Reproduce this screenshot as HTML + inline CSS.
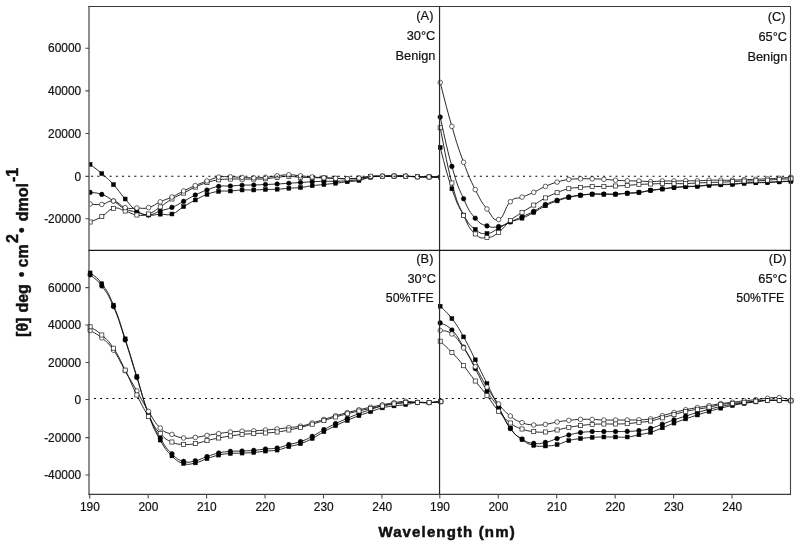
<!DOCTYPE html>
<html><head><meta charset="utf-8"><title>CD spectra</title>
<style>
html,body{margin:0;padding:0;background:#fff;}
body{width:800px;height:546px;overflow:hidden;font-family:"Liberation Sans",sans-serif;}
svg{display:block;filter:grayscale(1);}
text{font-family:"Liberation Sans",sans-serif;fill:#111;}
.ax{fill:none;stroke:#4a4a4a;stroke-width:1.1;}
.hd{fill:none;stroke:#222;stroke-width:1.4;}
.zl{fill:none;stroke:#000;stroke-width:1.15;stroke-dasharray:2 4.169;}
.ln{fill:none;stroke:#111;stroke-width:0.9;}
.f{fill:#000;stroke:#000;stroke-width:0.5;}
.o{fill:#fff;stroke:#222;stroke-width:0.7;}
.tl{font-size:11.9px;stroke:#111;stroke-width:0.2px;}
.pl{font-size:12.8px;stroke:#111;stroke-width:0.2px;}
.xt{font-size:15px;font-weight:bold;letter-spacing:1.14px;stroke:#111;stroke-width:0.5px;}
.yt{font-size:16px;font-weight:bold;stroke:#111;stroke-width:0.45px;}
.sp{font-size:14px;}
</style></head>
<body>
<svg width="800" height="546" viewBox="0 0 800 546">
<rect x="0" y="0" width="800" height="546" fill="#fff"/>
<clipPath id="cp"><rect x="89.4" y="0" width="350.6" height="250"/></clipPath>
<g clip-path="url(#cp)">
<path class="ln" d="M90.10 164.40C93.02 166.70 95.94 168.55 101.79 173.60C107.63 178.65 107.63 178.25 113.48 184.60C119.32 190.95 119.32 192.40 125.17 199.00C131.01 205.60 131.01 207.00 136.86 211.00C142.70 215.00 142.70 214.20 148.55 215.00C154.39 215.80 154.40 214.45 160.24 214.20C166.09 213.95 166.09 215.90 171.93 214.00C177.78 212.10 177.78 210.10 183.62 206.60C189.47 203.10 189.47 203.05 195.31 200.00C201.16 196.95 201.16 196.55 207.00 194.40C212.84 192.25 212.84 192.25 218.69 191.40C224.53 190.55 224.53 191.35 230.38 191.00C236.22 190.65 236.22 190.25 242.07 190.00C247.91 189.75 247.91 190.12 253.76 190.00C259.61 189.88 259.61 189.69 265.45 189.50C271.29 189.31 271.29 189.56 277.14 189.25C282.99 188.94 282.99 188.69 288.83 188.25C294.67 187.81 294.67 188.12 300.52 187.50C306.37 186.88 306.37 186.50 312.21 185.75C318.05 185.00 318.05 185.12 323.90 184.50C329.75 183.88 329.75 183.94 335.59 183.25C341.43 182.56 341.43 182.44 347.28 181.75C353.12 181.06 353.12 181.64 358.97 180.50C364.82 179.36 364.81 178.27 370.66 177.20C376.50 176.12 376.50 176.47 382.35 176.20C388.20 175.92 388.19 176.10 394.04 176.10C399.88 176.10 399.88 176.02 405.73 176.20C411.58 176.38 411.57 176.62 417.42 176.80C423.26 176.98 423.26 176.80 429.11 176.90C434.96 177.00 437.88 177.12 440.80 177.20"/>
<rect class="f" x="88.15" y="162.45" width="3.9" height="3.9"/><rect class="f" x="99.84" y="171.65" width="3.9" height="3.9"/><rect class="f" x="111.53" y="182.65" width="3.9" height="3.9"/><rect class="f" x="123.22" y="197.05" width="3.9" height="3.9"/><rect class="f" x="134.91" y="209.05" width="3.9" height="3.9"/><rect class="f" x="146.60" y="213.05" width="3.9" height="3.9"/><rect class="f" x="158.29" y="212.25" width="3.9" height="3.9"/><rect class="f" x="169.98" y="212.05" width="3.9" height="3.9"/><rect class="f" x="181.67" y="204.65" width="3.9" height="3.9"/><rect class="f" x="193.36" y="198.05" width="3.9" height="3.9"/><rect class="f" x="205.05" y="192.45" width="3.9" height="3.9"/><rect class="f" x="216.74" y="189.45" width="3.9" height="3.9"/><rect class="f" x="228.43" y="189.05" width="3.9" height="3.9"/><rect class="f" x="240.12" y="188.05" width="3.9" height="3.9"/><rect class="f" x="251.81" y="188.05" width="3.9" height="3.9"/><rect class="f" x="263.50" y="187.55" width="3.9" height="3.9"/><rect class="f" x="275.19" y="187.30" width="3.9" height="3.9"/><rect class="f" x="286.88" y="186.30" width="3.9" height="3.9"/><rect class="f" x="298.57" y="185.55" width="3.9" height="3.9"/><rect class="f" x="310.26" y="183.80" width="3.9" height="3.9"/><rect class="f" x="321.95" y="182.55" width="3.9" height="3.9"/><rect class="f" x="333.64" y="181.30" width="3.9" height="3.9"/><rect class="f" x="345.33" y="179.80" width="3.9" height="3.9"/><rect class="f" x="357.02" y="178.55" width="3.9" height="3.9"/><rect class="f" x="368.71" y="175.25" width="3.9" height="3.9"/><rect class="f" x="380.40" y="174.25" width="3.9" height="3.9"/><rect class="f" x="392.09" y="174.15" width="3.9" height="3.9"/><rect class="f" x="403.78" y="174.25" width="3.9" height="3.9"/><rect class="f" x="415.47" y="174.85" width="3.9" height="3.9"/><rect class="f" x="427.16" y="174.95" width="3.9" height="3.9"/><rect class="f" x="438.85" y="175.25" width="3.9" height="3.9"/>
<path class="ln" d="M90.10 192.40C93.02 192.90 95.94 192.25 101.79 194.40C107.63 196.55 107.63 197.35 113.48 201.00C119.32 204.65 119.32 206.25 125.17 209.00C131.01 211.75 131.01 210.50 136.86 212.00C142.70 213.50 142.70 215.25 148.55 215.00C154.39 214.75 154.40 212.90 160.24 211.00C166.09 209.10 166.09 209.80 171.93 207.40C177.78 205.00 177.78 204.50 183.62 201.40C189.47 198.30 189.47 197.85 195.31 195.00C201.16 192.15 201.16 192.15 207.00 190.00C212.84 187.85 212.84 187.40 218.69 186.40C224.53 185.40 224.53 186.30 230.38 186.00C236.22 185.70 236.22 185.45 242.07 185.20C247.91 184.95 247.91 185.18 253.76 185.00C259.61 184.82 259.61 184.75 265.45 184.50C271.29 184.25 271.29 184.31 277.14 184.00C282.99 183.69 282.99 183.62 288.83 183.25C294.67 182.88 294.67 182.88 300.52 182.50C306.37 182.12 306.37 182.06 312.21 181.75C318.05 181.44 318.05 181.38 323.90 181.25C329.75 181.12 329.75 181.38 335.59 181.25C341.43 181.12 341.43 181.19 347.28 180.75C353.12 180.31 353.12 180.44 358.97 179.50C364.82 178.56 364.81 177.82 370.66 177.00C376.50 176.18 376.50 176.42 382.35 176.20C388.20 175.97 388.19 176.10 394.04 176.10C399.88 176.10 399.88 176.02 405.73 176.20C411.58 176.38 411.57 176.62 417.42 176.80C423.26 176.98 423.26 176.80 429.11 176.90C434.96 177.00 437.88 177.12 440.80 177.20"/>
<circle class="f" cx="90.10" cy="192.40" r="2.30"/><circle class="f" cx="101.79" cy="194.40" r="2.30"/><circle class="f" cx="113.48" cy="201.00" r="2.30"/><circle class="f" cx="125.17" cy="209.00" r="2.30"/><circle class="f" cx="136.86" cy="212.00" r="2.30"/><circle class="f" cx="148.55" cy="215.00" r="2.30"/><circle class="f" cx="160.24" cy="211.00" r="2.30"/><circle class="f" cx="171.93" cy="207.40" r="2.30"/><circle class="f" cx="183.62" cy="201.40" r="2.30"/><circle class="f" cx="195.31" cy="195.00" r="2.30"/><circle class="f" cx="207.00" cy="190.00" r="2.30"/><circle class="f" cx="218.69" cy="186.40" r="2.30"/><circle class="f" cx="230.38" cy="186.00" r="2.30"/><circle class="f" cx="242.07" cy="185.20" r="2.30"/><circle class="f" cx="253.76" cy="185.00" r="2.30"/><circle class="f" cx="265.45" cy="184.50" r="2.30"/><circle class="f" cx="277.14" cy="184.00" r="2.30"/><circle class="f" cx="288.83" cy="183.25" r="2.30"/><circle class="f" cx="300.52" cy="182.50" r="2.30"/><circle class="f" cx="312.21" cy="181.75" r="2.30"/><circle class="f" cx="323.90" cy="181.25" r="2.30"/><circle class="f" cx="335.59" cy="181.25" r="2.30"/><circle class="f" cx="347.28" cy="180.75" r="2.30"/><circle class="f" cx="358.97" cy="179.50" r="2.30"/><circle class="f" cx="370.66" cy="177.00" r="2.30"/><circle class="f" cx="382.35" cy="176.20" r="2.30"/><circle class="f" cx="394.04" cy="176.10" r="2.30"/><circle class="f" cx="405.73" cy="176.20" r="2.30"/><circle class="f" cx="417.42" cy="176.80" r="2.30"/><circle class="f" cx="429.11" cy="176.90" r="2.30"/><circle class="f" cx="440.80" cy="177.20" r="2.30"/>
<path class="ln" d="M90.10 222.00C93.02 220.65 95.94 220.00 101.79 216.60C107.63 213.20 107.63 209.80 113.48 208.40C119.32 207.00 119.32 209.35 125.17 211.00C131.01 212.65 131.01 214.25 136.86 215.00C142.70 215.75 142.70 216.03 148.55 214.00C154.39 211.97 154.40 210.65 160.24 206.90C166.09 203.15 166.09 202.45 171.93 199.00C177.78 195.55 177.78 196.07 183.62 193.10C189.47 190.12 189.47 189.72 195.31 187.10C201.16 184.47 201.16 184.42 207.00 182.60C212.84 180.78 212.84 180.68 218.69 179.80C224.53 178.93 224.53 179.28 230.38 179.10C236.22 178.92 236.22 179.10 242.07 179.10C247.91 179.10 247.91 179.17 253.76 179.10C259.61 179.03 259.61 179.25 265.45 178.80C271.29 178.35 271.29 177.90 277.14 177.30C282.99 176.70 282.99 176.40 288.83 176.40C294.67 176.40 294.67 177.00 300.52 177.30C306.37 177.60 306.37 177.45 312.21 177.60C318.05 177.75 318.05 177.72 323.90 177.90C329.75 178.08 329.75 178.08 335.59 178.30C341.43 178.53 341.43 178.83 347.28 178.80C353.12 178.78 353.12 178.77 358.97 178.20C364.82 177.62 364.81 177.00 370.66 176.50C376.50 176.00 376.50 176.30 382.35 176.20C388.20 176.10 388.19 176.10 394.04 176.10C399.88 176.10 399.88 176.02 405.73 176.20C411.58 176.38 411.57 176.62 417.42 176.80C423.26 176.98 423.26 176.80 429.11 176.90C434.96 177.00 437.88 177.12 440.80 177.20"/>
<rect class="o" x="88.05" y="219.95" width="4.1" height="4.1"/><rect class="o" x="99.74" y="214.55" width="4.1" height="4.1"/><rect class="o" x="111.43" y="206.35" width="4.1" height="4.1"/><rect class="o" x="123.12" y="208.95" width="4.1" height="4.1"/><rect class="o" x="134.81" y="212.95" width="4.1" height="4.1"/><rect class="o" x="146.50" y="211.95" width="4.1" height="4.1"/><rect class="o" x="158.19" y="204.85" width="4.1" height="4.1"/><rect class="o" x="169.88" y="196.95" width="4.1" height="4.1"/><rect class="o" x="181.57" y="191.05" width="4.1" height="4.1"/><rect class="o" x="193.26" y="185.05" width="4.1" height="4.1"/><rect class="o" x="204.95" y="180.55" width="4.1" height="4.1"/><rect class="o" x="216.64" y="177.75" width="4.1" height="4.1"/><rect class="o" x="228.33" y="177.05" width="4.1" height="4.1"/><rect class="o" x="240.02" y="177.05" width="4.1" height="4.1"/><rect class="o" x="251.71" y="177.05" width="4.1" height="4.1"/><rect class="o" x="263.40" y="176.75" width="4.1" height="4.1"/><rect class="o" x="275.09" y="175.25" width="4.1" height="4.1"/><rect class="o" x="286.78" y="174.35" width="4.1" height="4.1"/><rect class="o" x="298.47" y="175.25" width="4.1" height="4.1"/><rect class="o" x="310.16" y="175.55" width="4.1" height="4.1"/><rect class="o" x="321.85" y="175.85" width="4.1" height="4.1"/><rect class="o" x="333.54" y="176.25" width="4.1" height="4.1"/><rect class="o" x="345.23" y="176.75" width="4.1" height="4.1"/><rect class="o" x="356.92" y="176.15" width="4.1" height="4.1"/><rect class="o" x="368.61" y="174.45" width="4.1" height="4.1"/><rect class="o" x="380.30" y="174.15" width="4.1" height="4.1"/><rect class="o" x="391.99" y="174.05" width="4.1" height="4.1"/><rect class="o" x="403.68" y="174.15" width="4.1" height="4.1"/><rect class="o" x="415.37" y="174.75" width="4.1" height="4.1"/><rect class="o" x="427.06" y="174.85" width="4.1" height="4.1"/><rect class="o" x="438.75" y="175.15" width="4.1" height="4.1"/>
<path class="ln" d="M90.10 204.00C93.02 204.10 95.94 205.15 101.79 204.40C107.63 203.65 107.63 200.20 113.48 201.00C119.32 201.80 119.32 205.85 125.17 207.60C131.01 209.35 131.01 208.00 136.86 208.00C142.70 208.00 142.70 209.15 148.55 207.60C154.39 206.05 154.40 204.45 160.24 201.80C166.09 199.15 166.09 199.70 171.93 197.00C177.78 194.30 177.78 193.85 183.62 191.00C189.47 188.15 189.47 188.10 195.31 185.60C201.16 183.10 201.16 183.12 207.00 181.00C212.84 178.88 212.84 178.14 218.69 177.10C224.53 176.06 224.53 176.77 230.38 176.85C236.22 176.93 236.22 177.16 242.07 177.40C247.91 177.64 247.91 177.83 253.76 177.80C259.61 177.78 259.61 177.80 265.45 177.30C271.29 176.80 271.29 176.43 277.14 175.80C282.99 175.18 282.99 174.80 288.83 174.80C294.67 174.80 294.67 175.28 300.52 175.80C306.37 176.33 306.37 176.40 312.21 176.90C318.05 177.40 318.05 177.45 323.90 177.80C329.75 178.15 329.75 178.08 335.59 178.30C341.43 178.53 341.43 178.77 347.28 178.70C353.12 178.62 353.12 178.61 358.97 178.00C364.82 177.39 364.81 176.70 370.66 176.25C376.50 175.80 376.50 176.24 382.35 176.20C388.20 176.16 388.19 176.10 394.04 176.10C399.88 176.10 399.88 176.02 405.73 176.20C411.58 176.38 411.57 176.62 417.42 176.80C423.26 176.98 423.26 176.80 429.11 176.90C434.96 177.00 437.88 177.12 440.80 177.20"/>
<circle class="o" cx="90.10" cy="204.00" r="2.30"/><circle class="o" cx="101.79" cy="204.40" r="2.30"/><circle class="o" cx="113.48" cy="201.00" r="2.30"/><circle class="o" cx="125.17" cy="207.60" r="2.30"/><circle class="o" cx="136.86" cy="208.00" r="2.30"/><circle class="o" cx="148.55" cy="207.60" r="2.30"/><circle class="o" cx="160.24" cy="201.80" r="2.30"/><circle class="o" cx="171.93" cy="197.00" r="2.30"/><circle class="o" cx="183.62" cy="191.00" r="2.30"/><circle class="o" cx="195.31" cy="185.60" r="2.30"/><circle class="o" cx="207.00" cy="181.00" r="2.30"/><circle class="o" cx="218.69" cy="177.10" r="2.30"/><circle class="o" cx="230.38" cy="176.85" r="2.30"/><circle class="o" cx="242.07" cy="177.40" r="2.30"/><circle class="o" cx="253.76" cy="177.80" r="2.30"/><circle class="o" cx="265.45" cy="177.30" r="2.30"/><circle class="o" cx="277.14" cy="175.80" r="2.30"/><circle class="o" cx="288.83" cy="174.80" r="2.30"/><circle class="o" cx="300.52" cy="175.80" r="2.30"/><circle class="o" cx="312.21" cy="176.90" r="2.30"/><circle class="o" cx="323.90" cy="177.80" r="2.30"/><circle class="o" cx="335.59" cy="178.30" r="2.30"/><circle class="o" cx="347.28" cy="178.70" r="2.30"/><circle class="o" cx="358.97" cy="178.00" r="2.30"/><circle class="o" cx="370.66" cy="176.25" r="2.30"/><circle class="o" cx="382.35" cy="176.20" r="2.30"/><circle class="o" cx="394.04" cy="176.10" r="2.30"/><circle class="o" cx="405.73" cy="176.20" r="2.30"/><circle class="o" cx="417.42" cy="176.80" r="2.30"/><circle class="o" cx="429.11" cy="176.90" r="2.30"/><circle class="o" cx="440.80" cy="177.20" r="2.30"/>
</g>
<path class="ln" d="M440.20 147.50C443.12 157.82 446.04 171.93 451.89 188.80C457.74 205.68 457.74 204.85 463.58 215.00C469.42 225.15 469.42 224.78 475.27 229.40C481.12 234.03 481.12 233.80 486.96 233.50C492.80 233.20 492.80 231.07 498.65 228.20C504.50 225.32 504.50 224.50 510.34 222.00C516.18 219.50 516.18 220.57 522.03 218.20C527.88 215.82 527.88 215.60 533.72 212.50C539.57 209.40 539.56 208.70 545.41 205.80C551.25 202.90 551.25 202.95 557.10 200.90C562.95 198.85 562.94 198.97 568.79 197.60C574.63 196.22 574.63 196.22 580.48 195.40C586.33 194.58 586.32 194.58 592.17 194.30C598.01 194.03 598.01 194.30 603.86 194.30C609.71 194.30 609.70 194.53 615.55 194.30C621.39 194.08 621.39 193.82 627.24 193.40C633.09 192.98 633.08 193.30 638.93 192.60C644.77 191.90 644.77 191.48 650.62 190.60C656.47 189.73 656.46 189.83 662.31 189.10C668.15 188.38 668.15 188.28 674.00 187.70C679.85 187.12 679.84 187.15 685.69 186.80C691.53 186.45 691.53 186.68 697.38 186.30C703.23 185.93 703.22 185.68 709.07 185.30C714.91 184.93 714.91 185.05 720.76 184.80C726.61 184.55 726.61 184.68 732.45 184.30C738.30 183.93 738.30 183.68 744.14 183.30C749.98 182.93 749.98 183.00 755.83 182.80C761.67 182.60 761.67 182.72 767.52 182.50C773.37 182.28 773.37 182.20 779.21 181.90C785.06 181.60 787.98 181.45 790.90 181.30"/>
<rect class="f" x="438.25" y="145.55" width="3.9" height="3.9"/><rect class="f" x="449.94" y="186.85" width="3.9" height="3.9"/><rect class="f" x="461.63" y="213.05" width="3.9" height="3.9"/><rect class="f" x="473.32" y="227.45" width="3.9" height="3.9"/><rect class="f" x="485.01" y="231.55" width="3.9" height="3.9"/><rect class="f" x="496.70" y="226.25" width="3.9" height="3.9"/><rect class="f" x="508.39" y="220.05" width="3.9" height="3.9"/><rect class="f" x="520.08" y="216.25" width="3.9" height="3.9"/><rect class="f" x="531.77" y="210.55" width="3.9" height="3.9"/><rect class="f" x="543.46" y="203.85" width="3.9" height="3.9"/><rect class="f" x="555.15" y="198.95" width="3.9" height="3.9"/><rect class="f" x="566.84" y="195.65" width="3.9" height="3.9"/><rect class="f" x="578.53" y="193.45" width="3.9" height="3.9"/><rect class="f" x="590.22" y="192.35" width="3.9" height="3.9"/><rect class="f" x="601.91" y="192.35" width="3.9" height="3.9"/><rect class="f" x="613.60" y="192.35" width="3.9" height="3.9"/><rect class="f" x="625.29" y="191.45" width="3.9" height="3.9"/><rect class="f" x="636.98" y="190.65" width="3.9" height="3.9"/><rect class="f" x="648.67" y="188.65" width="3.9" height="3.9"/><rect class="f" x="660.36" y="187.15" width="3.9" height="3.9"/><rect class="f" x="672.05" y="185.75" width="3.9" height="3.9"/><rect class="f" x="683.74" y="184.85" width="3.9" height="3.9"/><rect class="f" x="695.43" y="184.35" width="3.9" height="3.9"/><rect class="f" x="707.12" y="183.35" width="3.9" height="3.9"/><rect class="f" x="718.81" y="182.85" width="3.9" height="3.9"/><rect class="f" x="730.50" y="182.35" width="3.9" height="3.9"/><rect class="f" x="742.19" y="181.35" width="3.9" height="3.9"/><rect class="f" x="753.88" y="180.85" width="3.9" height="3.9"/><rect class="f" x="765.57" y="180.55" width="3.9" height="3.9"/><rect class="f" x="777.26" y="179.95" width="3.9" height="3.9"/><rect class="f" x="788.95" y="179.35" width="3.9" height="3.9"/>
<path class="ln" d="M440.20 117.10C443.12 129.43 446.04 145.97 451.89 166.40C457.74 186.83 457.74 185.85 463.58 198.80C469.42 211.75 469.42 211.42 475.27 218.20C481.12 224.97 481.12 223.82 486.96 225.90C492.80 227.98 492.80 227.53 498.65 226.50C504.50 225.47 504.50 224.23 510.34 221.80C516.18 219.38 516.18 219.43 522.03 216.80C527.88 214.18 527.88 214.38 533.72 211.30C539.57 208.23 539.56 207.28 545.41 204.50C551.25 201.72 551.25 202.10 557.10 200.20C562.95 198.30 562.94 198.18 568.79 196.90C574.63 195.62 574.63 195.82 580.48 195.10C586.33 194.38 586.32 194.28 592.17 194.00C598.01 193.72 598.01 194.00 603.86 194.00C609.71 194.00 609.70 194.22 615.55 194.00C621.39 193.78 621.39 193.52 627.24 193.10C633.09 192.68 633.08 193.00 638.93 192.30C644.77 191.60 644.77 191.18 650.62 190.30C656.47 189.43 656.46 189.53 662.31 188.80C668.15 188.08 668.15 187.98 674.00 187.40C679.85 186.82 679.84 186.85 685.69 186.50C691.53 186.15 691.53 186.38 697.38 186.00C703.23 185.62 703.22 185.38 709.07 185.00C714.91 184.62 714.91 184.75 720.76 184.50C726.61 184.25 726.61 184.38 732.45 184.00C738.30 183.62 738.30 183.38 744.14 183.00C749.98 182.62 749.98 182.70 755.83 182.50C761.67 182.30 761.67 182.42 767.52 182.20C773.37 181.97 773.37 181.90 779.21 181.60C785.06 181.30 787.98 181.15 790.90 181.00"/>
<circle class="f" cx="440.20" cy="117.10" r="2.30"/><circle class="f" cx="451.89" cy="166.40" r="2.30"/><circle class="f" cx="463.58" cy="198.80" r="2.30"/><circle class="f" cx="475.27" cy="218.20" r="2.30"/><circle class="f" cx="486.96" cy="225.90" r="2.30"/><circle class="f" cx="498.65" cy="226.50" r="2.30"/><circle class="f" cx="510.34" cy="221.80" r="2.30"/><circle class="f" cx="522.03" cy="216.80" r="2.30"/><circle class="f" cx="533.72" cy="211.30" r="2.30"/><circle class="f" cx="545.41" cy="204.50" r="2.30"/><circle class="f" cx="557.10" cy="200.20" r="2.30"/><circle class="f" cx="568.79" cy="196.90" r="2.30"/><circle class="f" cx="580.48" cy="195.10" r="2.30"/><circle class="f" cx="592.17" cy="194.00" r="2.30"/><circle class="f" cx="603.86" cy="194.00" r="2.30"/><circle class="f" cx="615.55" cy="194.00" r="2.30"/><circle class="f" cx="627.24" cy="193.10" r="2.30"/><circle class="f" cx="638.93" cy="192.30" r="2.30"/><circle class="f" cx="650.62" cy="190.30" r="2.30"/><circle class="f" cx="662.31" cy="188.80" r="2.30"/><circle class="f" cx="674.00" cy="187.40" r="2.30"/><circle class="f" cx="685.69" cy="186.50" r="2.30"/><circle class="f" cx="697.38" cy="186.00" r="2.30"/><circle class="f" cx="709.07" cy="185.00" r="2.30"/><circle class="f" cx="720.76" cy="184.50" r="2.30"/><circle class="f" cx="732.45" cy="184.00" r="2.30"/><circle class="f" cx="744.14" cy="183.00" r="2.30"/><circle class="f" cx="755.83" cy="182.50" r="2.30"/><circle class="f" cx="767.52" cy="182.20" r="2.30"/><circle class="f" cx="779.21" cy="181.60" r="2.30"/><circle class="f" cx="790.90" cy="181.00" r="2.30"/>
<path class="ln" d="M440.20 82.50C443.12 93.47 446.04 106.45 451.89 126.40C457.74 146.35 457.74 146.50 463.58 162.30C469.42 178.10 469.42 177.93 475.27 189.60C481.12 201.27 481.12 201.53 486.96 209.00C492.80 216.47 492.80 221.32 498.65 219.50C504.50 217.68 504.50 207.30 510.34 201.70C516.18 196.10 516.18 199.45 522.03 197.10C527.88 194.75 527.88 194.98 533.72 192.30C539.57 189.62 539.56 188.95 545.41 186.40C551.25 183.85 551.25 183.82 557.10 182.10C562.95 180.38 562.94 180.32 568.79 179.50C574.63 178.68 574.63 178.98 580.48 178.80C586.33 178.62 586.32 178.68 592.17 178.80C598.01 178.93 598.01 178.95 603.86 179.30C609.71 179.65 609.70 179.82 615.55 180.20C621.39 180.57 621.39 180.60 627.24 180.80C633.09 181.00 633.08 180.80 638.93 181.00C644.77 181.20 644.77 181.60 650.62 181.60C656.47 181.60 656.46 181.15 662.31 181.00C668.15 180.85 668.15 181.05 674.00 181.00C679.85 180.95 679.84 180.85 685.69 180.80C691.53 180.75 691.53 180.95 697.38 180.80C703.23 180.65 703.22 180.35 709.07 180.20C714.91 180.05 714.91 180.20 720.76 180.20C726.61 180.20 726.61 180.35 732.45 180.20C738.30 180.05 738.30 179.82 744.14 179.60C749.98 179.38 749.98 179.50 755.83 179.30C761.67 179.10 761.67 179.08 767.52 178.80C773.37 178.53 773.37 178.57 779.21 178.20C785.06 177.82 787.98 177.53 790.90 177.30"/>
<circle class="o" cx="440.20" cy="82.50" r="2.30"/><circle class="o" cx="451.89" cy="126.40" r="2.30"/><circle class="o" cx="463.58" cy="162.30" r="2.30"/><circle class="o" cx="475.27" cy="189.60" r="2.30"/><circle class="o" cx="486.96" cy="209.00" r="2.30"/><circle class="o" cx="498.65" cy="219.50" r="2.30"/><circle class="o" cx="510.34" cy="201.70" r="2.30"/><circle class="o" cx="522.03" cy="197.10" r="2.30"/><circle class="o" cx="533.72" cy="192.30" r="2.30"/><circle class="o" cx="545.41" cy="186.40" r="2.30"/><circle class="o" cx="557.10" cy="182.10" r="2.30"/><circle class="o" cx="568.79" cy="179.50" r="2.30"/><circle class="o" cx="580.48" cy="178.80" r="2.30"/><circle class="o" cx="592.17" cy="178.80" r="2.30"/><circle class="o" cx="603.86" cy="179.30" r="2.30"/><circle class="o" cx="615.55" cy="180.20" r="2.30"/><circle class="o" cx="627.24" cy="180.80" r="2.30"/><circle class="o" cx="638.93" cy="181.00" r="2.30"/><circle class="o" cx="650.62" cy="181.60" r="2.30"/><circle class="o" cx="662.31" cy="181.00" r="2.30"/><circle class="o" cx="674.00" cy="181.00" r="2.30"/><circle class="o" cx="685.69" cy="180.80" r="2.30"/><circle class="o" cx="697.38" cy="180.80" r="2.30"/><circle class="o" cx="709.07" cy="180.20" r="2.30"/><circle class="o" cx="720.76" cy="180.20" r="2.30"/><circle class="o" cx="732.45" cy="180.20" r="2.30"/><circle class="o" cx="744.14" cy="179.60" r="2.30"/><circle class="o" cx="755.83" cy="179.30" r="2.30"/><circle class="o" cx="767.52" cy="178.80" r="2.30"/><circle class="o" cx="779.21" cy="178.20" r="2.30"/><circle class="o" cx="790.90" cy="177.30" r="2.30"/>
<path class="ln" d="M440.20 127.70C443.12 141.53 446.04 161.05 451.89 183.00C457.74 204.95 457.74 202.78 463.58 215.50C469.42 228.22 469.42 228.40 475.27 233.90C481.12 239.40 481.12 237.90 486.96 237.50C492.80 237.10 492.80 236.53 498.65 232.30C504.50 228.08 504.50 225.55 510.34 220.60C516.18 215.65 516.18 216.38 522.03 212.50C527.88 208.62 527.88 208.75 533.72 205.10C539.57 201.45 539.56 201.00 545.41 197.90C551.25 194.80 551.25 195.00 557.10 192.70C562.95 190.40 562.94 190.02 568.79 188.70C574.63 187.38 574.63 187.95 580.48 187.40C586.33 186.85 586.32 186.72 592.17 186.50C598.01 186.28 598.01 186.62 603.86 186.50C609.71 186.38 609.70 186.28 615.55 186.00C621.39 185.72 621.39 185.78 627.24 185.40C633.09 185.03 633.08 184.85 638.93 184.50C644.77 184.15 644.77 184.22 650.62 184.00C656.47 183.78 656.46 183.70 662.31 183.60C668.15 183.50 668.15 183.60 674.00 183.60C679.85 183.60 679.84 183.75 685.69 183.60C691.53 183.45 691.53 183.28 697.38 183.00C703.23 182.72 703.22 182.70 709.07 182.50C714.91 182.30 714.91 182.42 720.76 182.20C726.61 181.97 726.61 181.90 732.45 181.60C738.30 181.30 738.30 181.20 744.14 181.00C749.98 180.80 749.98 181.00 755.83 180.80C761.67 180.60 761.67 180.57 767.52 180.20C773.37 179.82 773.37 179.65 779.21 179.30C785.06 178.95 787.98 178.93 790.90 178.80"/>
<rect class="o" x="438.15" y="125.65" width="4.1" height="4.1"/><rect class="o" x="449.84" y="180.95" width="4.1" height="4.1"/><rect class="o" x="461.53" y="213.45" width="4.1" height="4.1"/><rect class="o" x="473.22" y="231.85" width="4.1" height="4.1"/><rect class="o" x="484.91" y="235.45" width="4.1" height="4.1"/><rect class="o" x="496.60" y="230.25" width="4.1" height="4.1"/><rect class="o" x="508.29" y="218.55" width="4.1" height="4.1"/><rect class="o" x="519.98" y="210.45" width="4.1" height="4.1"/><rect class="o" x="531.67" y="203.05" width="4.1" height="4.1"/><rect class="o" x="543.36" y="195.85" width="4.1" height="4.1"/><rect class="o" x="555.05" y="190.65" width="4.1" height="4.1"/><rect class="o" x="566.74" y="186.65" width="4.1" height="4.1"/><rect class="o" x="578.43" y="185.35" width="4.1" height="4.1"/><rect class="o" x="590.12" y="184.45" width="4.1" height="4.1"/><rect class="o" x="601.81" y="184.45" width="4.1" height="4.1"/><rect class="o" x="613.50" y="183.95" width="4.1" height="4.1"/><rect class="o" x="625.19" y="183.35" width="4.1" height="4.1"/><rect class="o" x="636.88" y="182.45" width="4.1" height="4.1"/><rect class="o" x="648.57" y="181.95" width="4.1" height="4.1"/><rect class="o" x="660.26" y="181.55" width="4.1" height="4.1"/><rect class="o" x="671.95" y="181.55" width="4.1" height="4.1"/><rect class="o" x="683.64" y="181.55" width="4.1" height="4.1"/><rect class="o" x="695.33" y="180.95" width="4.1" height="4.1"/><rect class="o" x="707.02" y="180.45" width="4.1" height="4.1"/><rect class="o" x="718.71" y="180.15" width="4.1" height="4.1"/><rect class="o" x="730.40" y="179.55" width="4.1" height="4.1"/><rect class="o" x="742.09" y="178.95" width="4.1" height="4.1"/><rect class="o" x="753.78" y="178.75" width="4.1" height="4.1"/><rect class="o" x="765.47" y="178.15" width="4.1" height="4.1"/><rect class="o" x="777.16" y="177.25" width="4.1" height="4.1"/><rect class="o" x="788.85" y="176.75" width="4.1" height="4.1"/>
<path class="ln" d="M90.10 272.90C93.02 275.60 95.94 275.65 101.79 283.70C107.63 291.75 107.63 291.33 113.48 305.10C119.32 318.88 119.32 320.93 125.17 338.80C131.01 356.68 131.01 357.65 136.86 376.60C142.70 395.55 142.70 398.73 148.55 414.60C154.39 430.48 154.40 429.78 160.24 440.10C166.09 450.43 166.09 450.05 171.93 455.90C177.78 461.75 177.78 461.75 183.62 463.50C189.47 465.25 189.47 464.10 195.31 462.90C201.16 461.70 201.16 460.65 207.00 458.70C212.84 456.75 212.84 456.40 218.69 455.10C224.53 453.80 224.53 454.00 230.38 453.50C236.22 453.00 236.22 453.35 242.07 453.10C247.91 452.85 247.91 453.00 253.76 452.50C259.61 452.00 259.61 451.70 265.45 451.10C271.29 450.50 271.29 451.20 277.14 450.10C282.99 449.00 282.99 448.30 288.83 446.70C294.67 445.10 294.67 445.75 300.52 443.70C306.37 441.65 306.37 441.50 312.21 438.50C318.05 435.50 318.05 434.90 323.90 431.70C329.75 428.50 329.75 428.50 335.59 425.70C341.43 422.90 341.43 423.00 347.28 420.50C353.12 418.00 353.12 417.90 358.97 415.70C364.82 413.50 364.81 413.65 370.66 411.70C376.50 409.75 376.50 409.35 382.35 407.90C388.20 406.45 388.19 406.73 394.04 405.90C399.88 405.08 399.88 405.48 405.73 404.60C411.58 403.73 411.57 402.90 417.42 402.40C423.26 401.90 423.26 402.80 429.11 402.60C434.96 402.40 437.88 401.85 440.80 401.60"/>
<rect class="f" x="88.15" y="270.95" width="3.9" height="3.9"/><rect class="f" x="99.84" y="281.75" width="3.9" height="3.9"/><rect class="f" x="111.53" y="303.15" width="3.9" height="3.9"/><rect class="f" x="123.22" y="336.85" width="3.9" height="3.9"/><rect class="f" x="134.91" y="374.65" width="3.9" height="3.9"/><rect class="f" x="146.60" y="412.65" width="3.9" height="3.9"/><rect class="f" x="158.29" y="438.15" width="3.9" height="3.9"/><rect class="f" x="169.98" y="453.95" width="3.9" height="3.9"/><rect class="f" x="181.67" y="461.55" width="3.9" height="3.9"/><rect class="f" x="193.36" y="460.95" width="3.9" height="3.9"/><rect class="f" x="205.05" y="456.75" width="3.9" height="3.9"/><rect class="f" x="216.74" y="453.15" width="3.9" height="3.9"/><rect class="f" x="228.43" y="451.55" width="3.9" height="3.9"/><rect class="f" x="240.12" y="451.15" width="3.9" height="3.9"/><rect class="f" x="251.81" y="450.55" width="3.9" height="3.9"/><rect class="f" x="263.50" y="449.15" width="3.9" height="3.9"/><rect class="f" x="275.19" y="448.15" width="3.9" height="3.9"/><rect class="f" x="286.88" y="444.75" width="3.9" height="3.9"/><rect class="f" x="298.57" y="441.75" width="3.9" height="3.9"/><rect class="f" x="310.26" y="436.55" width="3.9" height="3.9"/><rect class="f" x="321.95" y="429.75" width="3.9" height="3.9"/><rect class="f" x="333.64" y="423.75" width="3.9" height="3.9"/><rect class="f" x="345.33" y="418.55" width="3.9" height="3.9"/><rect class="f" x="357.02" y="413.75" width="3.9" height="3.9"/><rect class="f" x="368.71" y="409.75" width="3.9" height="3.9"/><rect class="f" x="380.40" y="405.95" width="3.9" height="3.9"/><rect class="f" x="392.09" y="403.95" width="3.9" height="3.9"/><rect class="f" x="403.78" y="402.65" width="3.9" height="3.9"/><rect class="f" x="415.47" y="400.45" width="3.9" height="3.9"/><rect class="f" x="427.16" y="400.65" width="3.9" height="3.9"/><rect class="f" x="438.85" y="399.65" width="3.9" height="3.9"/>
<path class="ln" d="M90.10 274.90C93.02 277.67 95.94 278.07 101.79 286.00C107.63 293.93 107.63 293.10 113.48 306.60C119.32 320.10 119.32 322.27 125.17 340.00C131.01 357.73 131.01 359.10 136.86 377.50C142.70 395.90 142.70 398.48 148.55 413.60C154.39 428.73 154.40 427.95 160.24 438.00C166.09 448.05 166.09 447.95 171.93 453.80C177.78 459.65 177.78 459.65 183.62 461.40C189.47 463.15 189.47 462.00 195.31 460.80C201.16 459.60 201.16 458.55 207.00 456.60C212.84 454.65 212.84 454.30 218.69 453.00C224.53 451.70 224.53 451.90 230.38 451.40C236.22 450.90 236.22 451.25 242.07 451.00C247.91 450.75 247.91 450.90 253.76 450.40C259.61 449.90 259.61 449.60 265.45 449.00C271.29 448.40 271.29 449.10 277.14 448.00C282.99 446.90 282.99 446.20 288.83 444.60C294.67 443.00 294.67 443.65 300.52 441.60C306.37 439.55 306.37 439.40 312.21 436.40C318.05 433.40 318.05 432.80 323.90 429.60C329.75 426.40 329.75 426.40 335.59 423.60C341.43 420.80 341.43 420.90 347.28 418.40C353.12 415.90 353.12 415.80 358.97 413.60C364.82 411.40 364.81 411.55 370.66 409.60C376.50 407.65 376.50 407.25 382.35 405.80C388.20 404.35 388.19 404.62 394.04 403.80C399.88 402.98 399.88 402.85 405.73 402.50C411.58 402.15 411.57 402.38 417.42 402.40C423.26 402.42 423.26 402.80 429.11 402.60C434.96 402.40 437.88 401.85 440.80 401.60"/>
<circle class="f" cx="90.10" cy="274.90" r="2.30"/><circle class="f" cx="101.79" cy="286.00" r="2.30"/><circle class="f" cx="113.48" cy="306.60" r="2.30"/><circle class="f" cx="125.17" cy="340.00" r="2.30"/><circle class="f" cx="136.86" cy="377.50" r="2.30"/><circle class="f" cx="148.55" cy="413.60" r="2.30"/><circle class="f" cx="160.24" cy="438.00" r="2.30"/><circle class="f" cx="171.93" cy="453.80" r="2.30"/><circle class="f" cx="183.62" cy="461.40" r="2.30"/><circle class="f" cx="195.31" cy="460.80" r="2.30"/><circle class="f" cx="207.00" cy="456.60" r="2.30"/><circle class="f" cx="218.69" cy="453.00" r="2.30"/><circle class="f" cx="230.38" cy="451.40" r="2.30"/><circle class="f" cx="242.07" cy="451.00" r="2.30"/><circle class="f" cx="253.76" cy="450.40" r="2.30"/><circle class="f" cx="265.45" cy="449.00" r="2.30"/><circle class="f" cx="277.14" cy="448.00" r="2.30"/><circle class="f" cx="288.83" cy="444.60" r="2.30"/><circle class="f" cx="300.52" cy="441.60" r="2.30"/><circle class="f" cx="312.21" cy="436.40" r="2.30"/><circle class="f" cx="323.90" cy="429.60" r="2.30"/><circle class="f" cx="335.59" cy="423.60" r="2.30"/><circle class="f" cx="347.28" cy="418.40" r="2.30"/><circle class="f" cx="358.97" cy="413.60" r="2.30"/><circle class="f" cx="370.66" cy="409.60" r="2.30"/><circle class="f" cx="382.35" cy="405.80" r="2.30"/><circle class="f" cx="394.04" cy="403.80" r="2.30"/><circle class="f" cx="405.73" cy="402.50" r="2.30"/><circle class="f" cx="417.42" cy="402.40" r="2.30"/><circle class="f" cx="429.11" cy="402.60" r="2.30"/><circle class="f" cx="440.80" cy="401.60" r="2.30"/>
<path class="ln" d="M90.10 330.60C93.02 332.43 95.94 333.00 101.79 337.90C107.63 342.80 107.63 342.00 113.48 350.20C119.32 358.40 119.32 360.50 125.17 370.70C131.01 380.90 131.01 380.82 136.86 391.00C142.70 401.18 142.70 402.15 148.55 411.40C154.39 420.65 154.40 422.25 160.24 428.00C166.09 433.75 166.09 431.90 171.93 434.40C177.78 436.90 177.78 437.25 183.62 438.00C189.47 438.75 189.47 438.05 195.31 437.40C201.16 436.75 201.16 436.35 207.00 435.40C212.84 434.45 212.84 434.45 218.69 433.60C224.53 432.75 224.53 432.60 230.38 432.00C236.22 431.40 236.22 431.50 242.07 431.20C247.91 430.90 247.91 431.10 253.76 430.80C259.61 430.50 259.61 430.45 265.45 430.00C271.29 429.55 271.29 429.60 277.14 429.00C282.99 428.40 282.99 428.30 288.83 427.60C294.67 426.90 294.67 427.35 300.52 426.20C306.37 425.05 306.37 424.70 312.21 423.00C318.05 421.30 318.05 421.20 323.90 419.40C329.75 417.60 329.75 417.50 335.59 415.80C341.43 414.10 341.43 414.10 347.28 412.60C353.12 411.10 353.12 411.15 358.97 409.80C364.82 408.45 364.81 408.45 370.66 407.20C376.50 405.95 376.50 405.93 382.35 404.80C388.20 403.68 388.19 403.55 394.04 402.70C399.88 401.85 399.88 401.48 405.73 401.40C411.58 401.33 411.57 402.10 417.42 402.40C423.26 402.70 423.26 402.80 429.11 402.60C434.96 402.40 437.88 401.85 440.80 401.60"/>
<circle class="o" cx="90.10" cy="330.60" r="2.30"/><circle class="o" cx="101.79" cy="337.90" r="2.30"/><circle class="o" cx="113.48" cy="350.20" r="2.30"/><circle class="o" cx="125.17" cy="370.70" r="2.30"/><circle class="o" cx="136.86" cy="391.00" r="2.30"/><circle class="o" cx="148.55" cy="411.40" r="2.30"/><circle class="o" cx="160.24" cy="428.00" r="2.30"/><circle class="o" cx="171.93" cy="434.40" r="2.30"/><circle class="o" cx="183.62" cy="438.00" r="2.30"/><circle class="o" cx="195.31" cy="437.40" r="2.30"/><circle class="o" cx="207.00" cy="435.40" r="2.30"/><circle class="o" cx="218.69" cy="433.60" r="2.30"/><circle class="o" cx="230.38" cy="432.00" r="2.30"/><circle class="o" cx="242.07" cy="431.20" r="2.30"/><circle class="o" cx="253.76" cy="430.80" r="2.30"/><circle class="o" cx="265.45" cy="430.00" r="2.30"/><circle class="o" cx="277.14" cy="429.00" r="2.30"/><circle class="o" cx="288.83" cy="427.60" r="2.30"/><circle class="o" cx="300.52" cy="426.20" r="2.30"/><circle class="o" cx="312.21" cy="423.00" r="2.30"/><circle class="o" cx="323.90" cy="419.40" r="2.30"/><circle class="o" cx="335.59" cy="415.80" r="2.30"/><circle class="o" cx="347.28" cy="412.60" r="2.30"/><circle class="o" cx="358.97" cy="409.80" r="2.30"/><circle class="o" cx="370.66" cy="407.20" r="2.30"/><circle class="o" cx="382.35" cy="404.80" r="2.30"/><circle class="o" cx="394.04" cy="402.70" r="2.30"/><circle class="o" cx="405.73" cy="401.40" r="2.30"/><circle class="o" cx="417.42" cy="402.40" r="2.30"/><circle class="o" cx="429.11" cy="402.60" r="2.30"/><circle class="o" cx="440.80" cy="401.60" r="2.30"/>
<path class="ln" d="M90.10 326.80C93.02 328.85 95.94 329.65 101.79 335.00C107.63 340.35 107.63 339.42 113.48 348.20C119.32 356.98 119.32 358.40 125.17 370.10C131.01 381.80 131.01 383.38 136.86 395.00C142.70 406.62 142.70 406.95 148.55 416.60C154.39 426.25 154.40 427.25 160.24 433.60C166.09 439.95 166.09 439.30 171.93 442.00C177.78 444.70 177.78 444.00 183.62 444.40C189.47 444.80 189.47 444.55 195.31 443.60C201.16 442.65 201.16 442.00 207.00 440.60C212.84 439.20 212.84 439.15 218.69 438.00C224.53 436.85 224.53 436.90 230.38 436.00C236.22 435.10 236.22 435.00 242.07 434.40C247.91 433.80 247.91 433.95 253.76 433.60C259.61 433.25 259.61 433.40 265.45 433.00C271.29 432.60 271.29 432.75 277.14 432.00C282.99 431.25 282.99 431.15 288.83 430.00C294.67 428.85 294.67 428.85 300.52 427.40C306.37 425.95 306.37 425.90 312.21 424.20C318.05 422.50 318.05 422.40 323.90 420.60C329.75 418.80 329.75 418.70 335.59 417.00C341.43 415.30 341.43 415.30 347.28 413.80C353.12 412.30 353.12 412.35 358.97 411.00C364.82 409.65 364.81 409.65 370.66 408.40C376.50 407.15 376.50 407.12 382.35 406.00C388.20 404.88 388.19 404.75 394.04 403.90C399.88 403.05 399.88 402.98 405.73 402.60C411.58 402.23 411.57 402.40 417.42 402.40C423.26 402.40 423.26 402.80 429.11 402.60C434.96 402.40 437.88 401.85 440.80 401.60"/>
<rect class="o" x="88.05" y="324.75" width="4.1" height="4.1"/><rect class="o" x="99.74" y="332.95" width="4.1" height="4.1"/><rect class="o" x="111.43" y="346.15" width="4.1" height="4.1"/><rect class="o" x="123.12" y="368.05" width="4.1" height="4.1"/><rect class="o" x="134.81" y="392.95" width="4.1" height="4.1"/><rect class="o" x="146.50" y="414.55" width="4.1" height="4.1"/><rect class="o" x="158.19" y="431.55" width="4.1" height="4.1"/><rect class="o" x="169.88" y="439.95" width="4.1" height="4.1"/><rect class="o" x="181.57" y="442.35" width="4.1" height="4.1"/><rect class="o" x="193.26" y="441.55" width="4.1" height="4.1"/><rect class="o" x="204.95" y="438.55" width="4.1" height="4.1"/><rect class="o" x="216.64" y="435.95" width="4.1" height="4.1"/><rect class="o" x="228.33" y="433.95" width="4.1" height="4.1"/><rect class="o" x="240.02" y="432.35" width="4.1" height="4.1"/><rect class="o" x="251.71" y="431.55" width="4.1" height="4.1"/><rect class="o" x="263.40" y="430.95" width="4.1" height="4.1"/><rect class="o" x="275.09" y="429.95" width="4.1" height="4.1"/><rect class="o" x="286.78" y="427.95" width="4.1" height="4.1"/><rect class="o" x="298.47" y="425.35" width="4.1" height="4.1"/><rect class="o" x="310.16" y="422.15" width="4.1" height="4.1"/><rect class="o" x="321.85" y="418.55" width="4.1" height="4.1"/><rect class="o" x="333.54" y="414.95" width="4.1" height="4.1"/><rect class="o" x="345.23" y="411.75" width="4.1" height="4.1"/><rect class="o" x="356.92" y="408.95" width="4.1" height="4.1"/><rect class="o" x="368.61" y="406.35" width="4.1" height="4.1"/><rect class="o" x="380.30" y="403.95" width="4.1" height="4.1"/><rect class="o" x="391.99" y="401.85" width="4.1" height="4.1"/><rect class="o" x="403.68" y="400.55" width="4.1" height="4.1"/><rect class="o" x="415.37" y="400.35" width="4.1" height="4.1"/><rect class="o" x="427.06" y="400.55" width="4.1" height="4.1"/><rect class="o" x="438.75" y="399.55" width="4.1" height="4.1"/>
<path class="ln" d="M440.20 306.20C443.12 309.30 446.04 310.93 451.89 318.60C457.74 326.28 457.74 326.60 463.58 336.90C469.42 347.20 469.42 348.15 475.27 359.80C481.12 371.45 481.12 371.70 486.96 383.50C492.80 395.30 492.80 395.88 498.65 407.00C504.50 418.12 504.50 419.85 510.34 428.00C516.18 436.15 516.18 435.25 522.03 439.60C527.88 443.95 527.88 443.80 533.72 445.40C539.57 447.00 539.56 446.20 545.41 446.00C551.25 445.80 551.25 445.95 557.10 444.60C562.95 443.25 562.94 442.10 568.79 440.60C574.63 439.10 574.63 439.40 580.48 438.60C586.33 437.80 586.32 437.80 592.17 437.40C598.01 437.00 598.01 437.10 603.86 437.00C609.71 436.90 609.70 437.00 615.55 437.00C621.39 437.00 621.39 437.55 627.24 437.00C633.09 436.45 633.08 435.98 638.93 434.80C644.77 433.62 644.77 434.05 650.62 432.30C656.47 430.55 656.46 430.10 662.31 427.80C668.15 425.50 668.15 425.33 674.00 423.10C679.85 420.88 679.84 420.92 685.69 418.90C691.53 416.88 691.53 416.88 697.38 415.00C703.23 413.12 703.22 413.10 709.07 411.40C714.91 409.70 714.91 409.67 720.76 408.20C726.61 406.73 726.61 406.70 732.45 405.50C738.30 404.30 738.30 404.30 744.14 403.40C749.98 402.50 749.98 402.65 755.83 401.90C761.67 401.15 761.67 400.77 767.52 400.40C773.37 400.02 773.37 400.30 779.21 400.40C785.06 400.50 787.98 400.70 790.90 400.80"/>
<rect class="f" x="438.25" y="304.25" width="3.9" height="3.9"/><rect class="f" x="449.94" y="316.65" width="3.9" height="3.9"/><rect class="f" x="461.63" y="334.95" width="3.9" height="3.9"/><rect class="f" x="473.32" y="357.85" width="3.9" height="3.9"/><rect class="f" x="485.01" y="381.55" width="3.9" height="3.9"/><rect class="f" x="496.70" y="405.05" width="3.9" height="3.9"/><rect class="f" x="508.39" y="426.05" width="3.9" height="3.9"/><rect class="f" x="520.08" y="437.65" width="3.9" height="3.9"/><rect class="f" x="531.77" y="443.45" width="3.9" height="3.9"/><rect class="f" x="543.46" y="444.05" width="3.9" height="3.9"/><rect class="f" x="555.15" y="442.65" width="3.9" height="3.9"/><rect class="f" x="566.84" y="438.65" width="3.9" height="3.9"/><rect class="f" x="578.53" y="436.65" width="3.9" height="3.9"/><rect class="f" x="590.22" y="435.45" width="3.9" height="3.9"/><rect class="f" x="601.91" y="435.05" width="3.9" height="3.9"/><rect class="f" x="613.60" y="435.05" width="3.9" height="3.9"/><rect class="f" x="625.29" y="435.05" width="3.9" height="3.9"/><rect class="f" x="636.98" y="432.85" width="3.9" height="3.9"/><rect class="f" x="648.67" y="430.35" width="3.9" height="3.9"/><rect class="f" x="660.36" y="425.85" width="3.9" height="3.9"/><rect class="f" x="672.05" y="421.15" width="3.9" height="3.9"/><rect class="f" x="683.74" y="416.95" width="3.9" height="3.9"/><rect class="f" x="695.43" y="413.05" width="3.9" height="3.9"/><rect class="f" x="707.12" y="409.45" width="3.9" height="3.9"/><rect class="f" x="718.81" y="406.25" width="3.9" height="3.9"/><rect class="f" x="730.50" y="403.55" width="3.9" height="3.9"/><rect class="f" x="742.19" y="401.45" width="3.9" height="3.9"/><rect class="f" x="753.88" y="399.95" width="3.9" height="3.9"/><rect class="f" x="765.57" y="398.45" width="3.9" height="3.9"/><rect class="f" x="777.26" y="398.45" width="3.9" height="3.9"/><rect class="f" x="788.95" y="398.85" width="3.9" height="3.9"/>
<path class="ln" d="M440.20 322.90C443.12 324.67 446.04 323.95 451.89 330.00C457.74 336.05 457.74 337.45 463.58 347.10C469.42 356.75 469.42 357.60 475.27 368.60C481.12 379.60 481.12 381.25 486.96 391.10C492.80 400.95 492.80 398.62 498.65 408.00C504.50 417.38 504.50 420.85 510.34 428.60C516.18 436.35 516.18 435.30 522.03 439.00C527.88 442.70 527.88 442.55 533.72 443.40C539.57 444.25 539.56 443.60 545.41 442.40C551.25 441.20 551.25 440.45 557.10 438.60C562.95 436.75 562.94 436.50 568.79 435.00C574.63 433.50 574.63 433.45 580.48 432.60C586.33 431.75 586.32 431.85 592.17 431.60C598.01 431.35 598.01 431.60 603.86 431.60C609.71 431.60 609.70 431.65 615.55 431.60C621.39 431.55 621.39 431.65 627.24 431.40C633.09 431.15 633.08 431.35 638.93 430.60C644.77 429.85 644.77 430.00 650.62 428.40C656.47 426.80 656.46 426.32 662.31 424.20C668.15 422.07 668.15 421.92 674.00 419.90C679.85 417.88 679.84 417.95 685.69 416.10C691.53 414.25 691.53 414.20 697.38 412.50C703.23 410.80 703.22 410.80 709.07 409.30C714.91 407.80 714.91 407.73 720.76 406.50C726.61 405.27 726.61 405.30 732.45 404.40C738.30 403.50 738.30 403.65 744.14 402.90C749.98 402.15 749.98 402.02 755.83 401.40C761.67 400.77 761.67 400.65 767.52 400.40C773.37 400.15 773.37 400.30 779.21 400.40C785.06 400.50 787.98 400.70 790.90 400.80"/>
<circle class="f" cx="440.20" cy="322.90" r="2.30"/><circle class="f" cx="451.89" cy="330.00" r="2.30"/><circle class="f" cx="463.58" cy="347.10" r="2.30"/><circle class="f" cx="475.27" cy="368.60" r="2.30"/><circle class="f" cx="486.96" cy="391.10" r="2.30"/><circle class="f" cx="498.65" cy="408.00" r="2.30"/><circle class="f" cx="510.34" cy="428.60" r="2.30"/><circle class="f" cx="522.03" cy="439.00" r="2.30"/><circle class="f" cx="533.72" cy="443.40" r="2.30"/><circle class="f" cx="545.41" cy="442.40" r="2.30"/><circle class="f" cx="557.10" cy="438.60" r="2.30"/><circle class="f" cx="568.79" cy="435.00" r="2.30"/><circle class="f" cx="580.48" cy="432.60" r="2.30"/><circle class="f" cx="592.17" cy="431.60" r="2.30"/><circle class="f" cx="603.86" cy="431.60" r="2.30"/><circle class="f" cx="615.55" cy="431.60" r="2.30"/><circle class="f" cx="627.24" cy="431.40" r="2.30"/><circle class="f" cx="638.93" cy="430.60" r="2.30"/><circle class="f" cx="650.62" cy="428.40" r="2.30"/><circle class="f" cx="662.31" cy="424.20" r="2.30"/><circle class="f" cx="674.00" cy="419.90" r="2.30"/><circle class="f" cx="685.69" cy="416.10" r="2.30"/><circle class="f" cx="697.38" cy="412.50" r="2.30"/><circle class="f" cx="709.07" cy="409.30" r="2.30"/><circle class="f" cx="720.76" cy="406.50" r="2.30"/><circle class="f" cx="732.45" cy="404.40" r="2.30"/><circle class="f" cx="744.14" cy="402.90" r="2.30"/><circle class="f" cx="755.83" cy="401.40" r="2.30"/><circle class="f" cx="767.52" cy="400.40" r="2.30"/><circle class="f" cx="779.21" cy="400.40" r="2.30"/><circle class="f" cx="790.90" cy="400.80" r="2.30"/>
<path class="ln" d="M440.20 330.50C443.12 331.38 446.04 329.65 451.89 334.00C457.74 338.35 457.74 339.72 463.58 347.90C469.42 356.07 469.42 356.90 475.27 366.70C481.12 376.50 481.12 377.78 486.96 387.10C492.80 396.43 492.80 396.77 498.65 404.00C504.50 411.23 504.50 411.35 510.34 416.00C516.18 420.65 516.18 420.35 522.03 422.60C527.88 424.85 527.88 424.55 533.72 425.00C539.57 425.45 539.56 425.15 545.41 424.40C551.25 423.65 551.25 423.00 557.10 422.00C562.95 421.00 562.94 421.05 568.79 420.40C574.63 419.75 574.63 419.65 580.48 419.40C586.33 419.15 586.32 419.25 592.17 419.40C598.01 419.55 598.01 419.85 603.86 420.00C609.71 420.15 609.70 420.00 615.55 420.00C621.39 420.00 621.39 420.05 627.24 420.00C633.09 419.95 633.08 420.08 638.93 419.80C644.77 419.52 644.77 419.92 650.62 418.90C656.47 417.88 656.46 417.30 662.31 415.70C668.15 414.10 668.15 414.00 674.00 412.50C679.85 411.00 679.84 410.92 685.69 409.70C691.53 408.48 691.53 408.60 697.38 407.60C703.23 406.60 703.22 406.70 709.07 405.70C714.91 404.70 714.91 404.45 720.76 403.60C726.61 402.75 726.61 403.00 732.45 402.30C738.30 401.60 738.30 401.45 744.14 400.80C749.98 400.15 749.98 400.32 755.83 399.70C761.67 399.07 761.67 398.82 767.52 398.30C773.37 397.78 773.37 397.12 779.21 397.60C785.06 398.08 787.98 399.55 790.90 400.20"/>
<circle class="o" cx="440.20" cy="330.50" r="2.30"/><circle class="o" cx="451.89" cy="334.00" r="2.30"/><circle class="o" cx="463.58" cy="347.90" r="2.30"/><circle class="o" cx="475.27" cy="366.70" r="2.30"/><circle class="o" cx="486.96" cy="387.10" r="2.30"/><circle class="o" cx="498.65" cy="404.00" r="2.30"/><circle class="o" cx="510.34" cy="416.00" r="2.30"/><circle class="o" cx="522.03" cy="422.60" r="2.30"/><circle class="o" cx="533.72" cy="425.00" r="2.30"/><circle class="o" cx="545.41" cy="424.40" r="2.30"/><circle class="o" cx="557.10" cy="422.00" r="2.30"/><circle class="o" cx="568.79" cy="420.40" r="2.30"/><circle class="o" cx="580.48" cy="419.40" r="2.30"/><circle class="o" cx="592.17" cy="419.40" r="2.30"/><circle class="o" cx="603.86" cy="420.00" r="2.30"/><circle class="o" cx="615.55" cy="420.00" r="2.30"/><circle class="o" cx="627.24" cy="420.00" r="2.30"/><circle class="o" cx="638.93" cy="419.80" r="2.30"/><circle class="o" cx="650.62" cy="418.90" r="2.30"/><circle class="o" cx="662.31" cy="415.70" r="2.30"/><circle class="o" cx="674.00" cy="412.50" r="2.30"/><circle class="o" cx="685.69" cy="409.70" r="2.30"/><circle class="o" cx="697.38" cy="407.60" r="2.30"/><circle class="o" cx="709.07" cy="405.70" r="2.30"/><circle class="o" cx="720.76" cy="403.60" r="2.30"/><circle class="o" cx="732.45" cy="402.30" r="2.30"/><circle class="o" cx="744.14" cy="400.80" r="2.30"/><circle class="o" cx="755.83" cy="399.70" r="2.30"/><circle class="o" cx="767.52" cy="398.30" r="2.30"/><circle class="o" cx="779.21" cy="397.60" r="2.30"/><circle class="o" cx="790.90" cy="400.20" r="2.30"/>
<path class="ln" d="M440.20 341.20C443.12 344.00 446.04 346.27 451.89 352.40C457.74 358.52 457.74 358.55 463.58 365.70C469.42 372.85 469.42 373.55 475.27 381.00C481.12 388.45 481.12 387.95 486.96 395.50C492.80 403.05 492.80 404.32 498.65 411.20C504.50 418.07 504.50 418.55 510.34 423.00C516.18 427.45 516.18 426.85 522.03 429.00C527.88 431.15 527.88 430.85 533.72 431.60C539.57 432.35 539.56 432.40 545.41 432.00C551.25 431.60 551.25 431.15 557.10 430.00C562.95 428.85 562.94 428.50 568.79 427.40C574.63 426.30 574.63 426.35 580.48 425.60C586.33 424.85 586.32 424.80 592.17 424.40C598.01 424.00 598.01 424.10 603.86 424.00C609.71 423.90 609.70 424.10 615.55 424.00C621.39 423.90 621.39 424.00 627.24 423.60C633.09 423.20 633.08 423.05 638.93 422.40C644.77 421.75 644.77 422.15 650.62 421.00C656.47 419.85 656.46 419.40 662.31 417.80C668.15 416.20 668.15 416.20 674.00 414.60C679.85 413.00 679.84 412.72 685.69 411.40C691.53 410.07 691.53 410.35 697.38 409.30C703.23 408.25 703.22 408.38 709.07 407.20C714.91 406.02 714.91 405.55 720.76 404.60C726.61 403.65 726.61 403.97 732.45 403.40C738.30 402.82 738.30 402.85 744.14 402.30C749.98 401.75 749.98 401.68 755.83 401.20C761.67 400.72 761.67 400.60 767.52 400.40C773.37 400.20 773.37 400.30 779.21 400.40C785.06 400.50 787.98 400.70 790.90 400.80"/>
<rect class="o" x="438.15" y="339.15" width="4.1" height="4.1"/><rect class="o" x="449.84" y="350.35" width="4.1" height="4.1"/><rect class="o" x="461.53" y="363.65" width="4.1" height="4.1"/><rect class="o" x="473.22" y="378.95" width="4.1" height="4.1"/><rect class="o" x="484.91" y="393.45" width="4.1" height="4.1"/><rect class="o" x="496.60" y="409.15" width="4.1" height="4.1"/><rect class="o" x="508.29" y="420.95" width="4.1" height="4.1"/><rect class="o" x="519.98" y="426.95" width="4.1" height="4.1"/><rect class="o" x="531.67" y="429.55" width="4.1" height="4.1"/><rect class="o" x="543.36" y="429.95" width="4.1" height="4.1"/><rect class="o" x="555.05" y="427.95" width="4.1" height="4.1"/><rect class="o" x="566.74" y="425.35" width="4.1" height="4.1"/><rect class="o" x="578.43" y="423.55" width="4.1" height="4.1"/><rect class="o" x="590.12" y="422.35" width="4.1" height="4.1"/><rect class="o" x="601.81" y="421.95" width="4.1" height="4.1"/><rect class="o" x="613.50" y="421.95" width="4.1" height="4.1"/><rect class="o" x="625.19" y="421.55" width="4.1" height="4.1"/><rect class="o" x="636.88" y="420.35" width="4.1" height="4.1"/><rect class="o" x="648.57" y="418.95" width="4.1" height="4.1"/><rect class="o" x="660.26" y="415.75" width="4.1" height="4.1"/><rect class="o" x="671.95" y="412.55" width="4.1" height="4.1"/><rect class="o" x="683.64" y="409.35" width="4.1" height="4.1"/><rect class="o" x="695.33" y="407.25" width="4.1" height="4.1"/><rect class="o" x="707.02" y="405.15" width="4.1" height="4.1"/><rect class="o" x="718.71" y="402.55" width="4.1" height="4.1"/><rect class="o" x="730.40" y="401.35" width="4.1" height="4.1"/><rect class="o" x="742.09" y="400.25" width="4.1" height="4.1"/><rect class="o" x="753.78" y="399.15" width="4.1" height="4.1"/><rect class="o" x="765.47" y="398.35" width="4.1" height="4.1"/><rect class="o" x="777.16" y="398.35" width="4.1" height="4.1"/><rect class="o" x="788.85" y="398.75" width="4.1" height="4.1"/>
<path d="M89 5.9V494.9" stroke="#1c1c1c" stroke-width="1" fill="none"/>
<path d="M88.5 6.5H791" stroke="#3a3a3a" stroke-width="1.05" fill="none"/>
<path d="M790.5 6V494.9" stroke="#444" stroke-width="1.1" fill="none"/>
<path d="M88.5 494.3H791" stroke="#3c3c3c" stroke-width="1.2" fill="none"/>
<path d="M439.55 6V494.5" stroke="#2a2a2a" stroke-width="1.2" fill="none"/>
<path d="M88.5 250.4H791" stroke="#1a1a1a" stroke-width="1.3" fill="none"/>
<path class="ax" d="M85.4 48.2H89.2M85.4 90.9H89.2M85.4 133.5H89.2M85.4 176.4H89.2M85.4 218.8H89.2M85.4 287.6H89.2M85.4 325.0H89.2M85.4 362.5H89.2M85.4 399.5H89.2M85.4 437.6H89.2M85.4 475.0H89.2M89.70 494.3V498.5M148.15 494.3V498.5M206.60 494.3V498.5M265.05 494.3V498.5M323.50 494.3V498.5M381.95 494.3V498.5M439.80 494.3V498.5M498.25 494.3V498.5M556.70 494.3V498.5M615.15 494.3V498.5M673.60 494.3V498.5M732.05 494.3V498.5"/>
<path class="zl" d="M91.17 176.2H790.6"/>
<path class="zl" d="M93.96 398.5H790.6"/>
<text class="tl" text-anchor="end" x="81.2" y="52.4">60000</text>
<text class="tl" text-anchor="end" x="81.2" y="95.1">40000</text>
<text class="tl" text-anchor="end" x="81.2" y="137.7">20000</text>
<text class="tl" text-anchor="end" x="81.2" y="180.6">0</text>
<text class="tl" text-anchor="end" x="81.2" y="223.0">-20000</text>
<text class="tl" text-anchor="end" x="81.2" y="291.8">60000</text>
<text class="tl" text-anchor="end" x="81.2" y="329.2">40000</text>
<text class="tl" text-anchor="end" x="81.2" y="366.7">20000</text>
<text class="tl" text-anchor="end" x="81.2" y="403.7">0</text>
<text class="tl" text-anchor="end" x="81.2" y="441.8">-20000</text>
<text class="tl" text-anchor="end" x="81.2" y="479.2">-40000</text>
<text class="tl" text-anchor="middle" x="89.9" y="510.8">190</text>
<text class="tl" text-anchor="middle" x="148.4" y="510.8">200</text>
<text class="tl" text-anchor="middle" x="206.8" y="510.8">210</text>
<text class="tl" text-anchor="middle" x="265.3" y="510.8">220</text>
<text class="tl" text-anchor="middle" x="323.7" y="510.8">230</text>
<text class="tl" text-anchor="middle" x="382.2" y="510.8">240</text>
<text class="tl" text-anchor="middle" x="440.0" y="510.8">190</text>
<text class="tl" text-anchor="middle" x="498.4" y="510.8">200</text>
<text class="tl" text-anchor="middle" x="556.9" y="510.8">210</text>
<text class="tl" text-anchor="middle" x="615.3" y="510.8">220</text>
<text class="tl" text-anchor="middle" x="673.8" y="510.8">230</text>
<text class="tl" text-anchor="middle" x="732.2" y="510.8">240</text>
<text class="pl" text-anchor="end" x="433.4" y="20.4">(A)</text>
<text class="pl" text-anchor="end" x="435.3" y="39.6">30&#176;C</text>
<text class="pl" text-anchor="end" x="435.4" y="59.6">Benign</text>
<text class="pl" text-anchor="end" x="785.6" y="20.8">(C)</text>
<text class="pl" text-anchor="end" x="787.1" y="41.4">65&#176;C</text>
<text class="pl" text-anchor="end" x="787.3" y="60.6">Benign</text>
<text class="pl" text-anchor="end" x="433.4" y="262.6">(B)</text>
<text class="pl" text-anchor="end" x="436.1" y="283.0">30&#176;C</text>
<text class="pl" style="font-size:12.35px" text-anchor="end" x="433.8" y="302.2">50%TFE</text>
<text class="pl" text-anchor="end" x="786.4" y="262.8">(D)</text>
<text class="pl" text-anchor="end" x="786.9" y="283.0">65&#176;C</text>
<text class="pl" style="font-size:12.35px" text-anchor="end" x="784.3" y="302.2">50%TFE</text>
<text class="xt" x="378.4" y="536.8">Wavelength (nm)</text>
<g transform="translate(27.8 336) rotate(-90)"><text class="yt" text-anchor="start" x="-0.9" y="0.0">[&#952;]</text><text class="yt" text-anchor="start" x="23.4" y="0.0">deg</text><text class="yt" text-anchor="middle" x="61.6" y="-0.6">&#8226;</text><text class="yt" text-anchor="start" x="68.6" y="0.0">cm</text><text class="yt" text-anchor="start" x="93.0" y="-9.6">2</text><text class="yt" text-anchor="middle" x="105.9" y="-0.6">&#8226;</text><text class="yt" text-anchor="start" x="114.7" y="0.0">dmol</text><text class="yt" text-anchor="start" x="154.0" y="-9.6">-1</text></g>
</svg>
</body></html>
